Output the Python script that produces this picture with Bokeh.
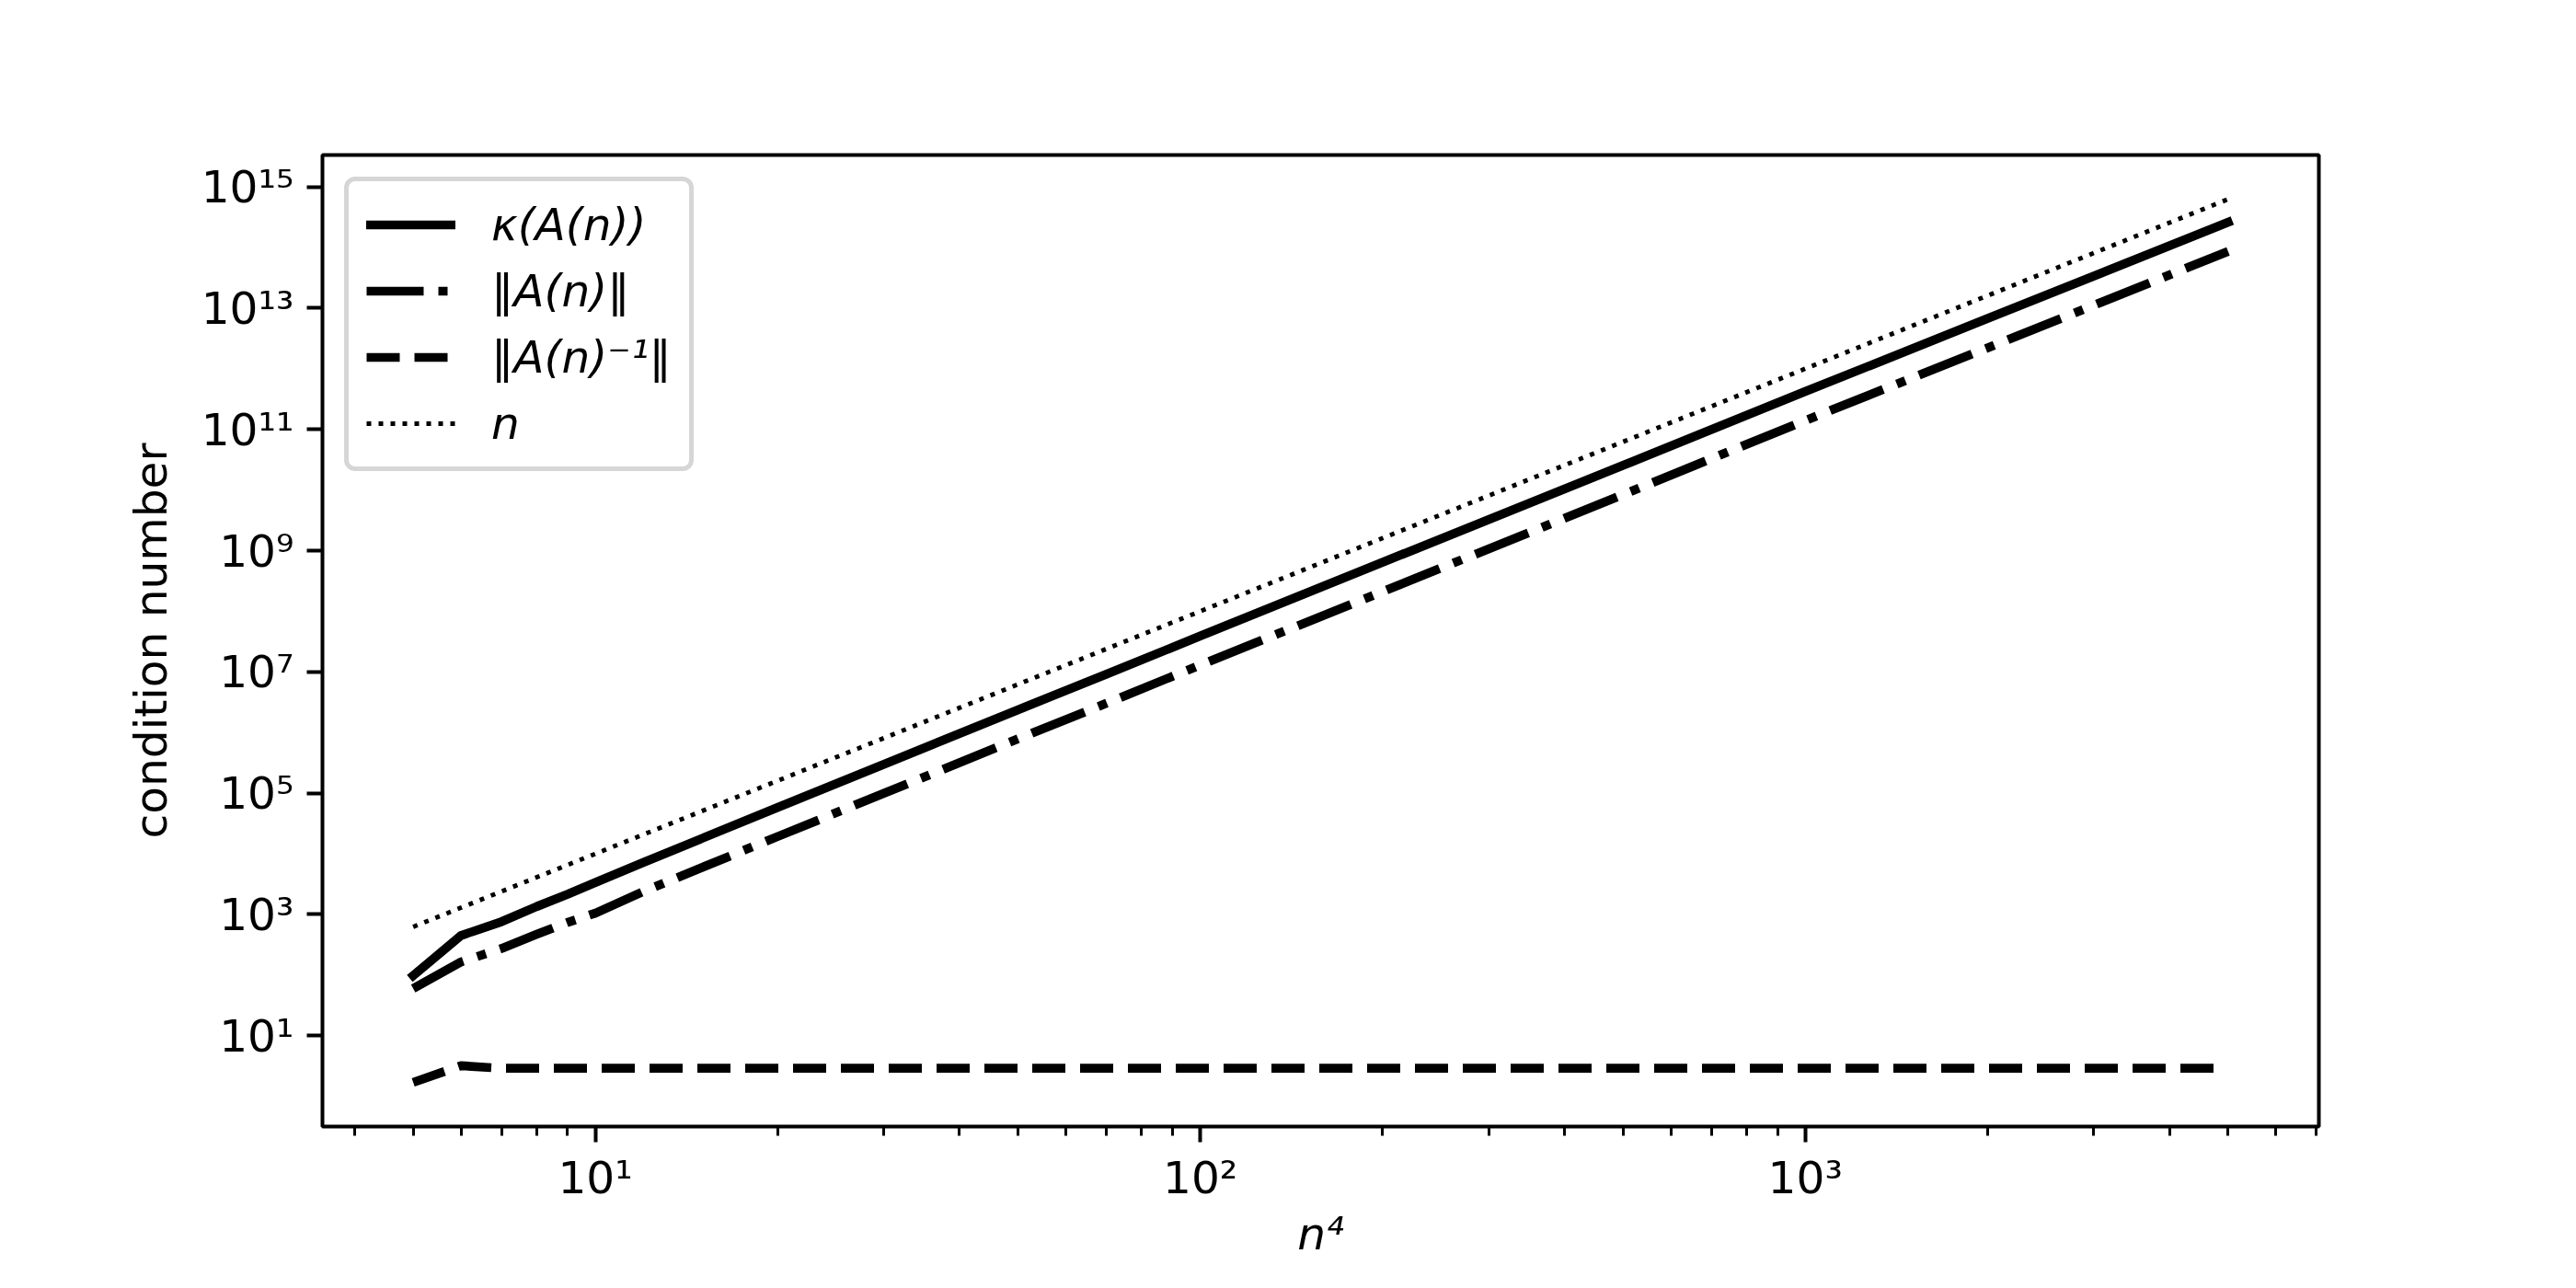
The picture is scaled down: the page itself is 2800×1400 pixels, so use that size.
import math
from bokeh.plotting import figure
from bokeh.models import (Range1d, FixedTicker, CustomJSTickFormatter, Legend, LegendItem)
from bokeh.embed import file_html
from bokeh.resources import INLINE

# ---- data ----
x_vals = [5, 6, 7, 8, 9, 10, 12, 15, 20, 30, 50, 70, 100, 200, 500, 1000, 2000, 5000]
kappa = [98, 450, 760, 1350, 2150, 3360, 7200, 17900, 5.8e4, 3.0e5, 2.38e6, 9.2e6,
         3.9e7, 6.4e8, 2.55e10, 4.2e11, 6.7e12, 2.6e14]
norm_A = [60, 165, 275, 470, 740, 1050, 2380, 5940, 1.92e4, 9.95e4, 7.9e5, 3.05e6,
          1.3e7, 2.1e8, 8.4e9, 1.4e11, 2.2e12, 8.6e13]
norm_A_inv = [1.7, 3.2, 2.9, 2.9, 2.9, 2.9, 2.9, 2.9, 2.9, 2.9, 2.9, 2.9,
              2.9, 2.9, 2.9, 2.9, 2.9, 2.9]
n_ref = [625, 1296, 2401, 4096, 6561, 1e4, 20736, 50625, 1.6e5, 8.1e5, 6.25e6, 2.401e7,
         1e8, 1.6e9, 6.25e10, 1e12, 1.6e13, 6.25e14]

legend_labels = ["\u03ba(A(n))", "\u2016A(n)\u2016", "\u2016A(n)\u207b\u00b9\u2016", "n"]
x_label = "n\u2074"
y_label = "condition number"
x_major_exp = [1, 2, 3]
y_major_exp = [1, 3, 5, 7, 9, 11, 13, 15]

FONT = "DejaVu Sans"
FS = "48.6px"

# ranges: 5% padding in log space (matplotlib default margins)
all_y = kappa + norm_A + norm_A_inv + n_ref
lx0, lx1 = math.log10(min(x_vals)), math.log10(max(x_vals))
ly0, ly1 = math.log10(min(all_y)), math.log10(max(all_y))
px, py = 0.05 * (lx1 - lx0), 0.05 * (ly1 - ly0)

W, H = 2784, 1390
p = figure(width=W, height=H, x_axis_type="log", y_axis_type="log",
           x_range=Range1d(10 ** (lx0 - px), 10 ** (lx1 + px)),
           y_range=Range1d(10 ** (ly0 - py), 10 ** (ly1 + py)),
           output_backend="svg", toolbar_location=None,
           min_border_left=350, min_border_right=W - 2520,
           min_border_top=168, min_border_bottom=H - 1224)
p.background_fill_color = "white"
p.border_fill_color = "white"
p.outline_line_color = "black"
p.outline_line_width = 4
p.xgrid.visible = False
p.ygrid.visible = False

r_k = p.line(x_vals, kappa, line_color="black", line_width=9.7,
             line_join="round", line_cap="square")
r_a = p.line(x_vals, norm_A, line_color="black", line_width=9.7,
             line_join="round", line_dash="62 16 10 16")
r_i = p.line(x_vals, norm_A_inv, line_color="black", line_width=9.7,
             line_join="round", line_dash="36 16")
r_n = p.line(x_vals, n_ref, line_color="black", line_width=4.9,
             line_join="round", line_dash="5 8")

sup_js = """
const sup = {"0":"\\u2070","1":"\\u00b9","2":"\\u00b2","3":"\\u00b3","4":"\\u2074",
             "5":"\\u2075","6":"\\u2076","7":"\\u2077","8":"\\u2078","9":"\\u2079","-":"\\u207b"};
const e = Math.round(Math.log10(tick));
return "10" + String(e).split("").map(c => sup[c]).join("");
"""

x_minor = [m * 10 ** k for k in range(0, 4) for m in range(2, 10)]

xa = p.xaxis[0]
xa.ticker = FixedTicker(ticks=[10 ** e for e in x_major_exp], minor_ticks=x_minor)
ya = p.yaxis[0]
ya.ticker = FixedTicker(ticks=[10 ** e for e in y_major_exp], minor_ticks=[])

for ax in (xa, ya):
    ax.formatter = CustomJSTickFormatter(code=sup_js)
    ax.axis_line_color = None
    ax.major_tick_line_color = "black"
    ax.major_tick_line_width = 4
    ax.minor_tick_line_color = "black"
    ax.minor_tick_line_width = 3
    ax.major_tick_in = 0
    ax.major_tick_out = 17
    ax.minor_tick_in = 0
    ax.minor_tick_out = 10
    ax.major_label_text_font = FONT
    ax.major_label_text_font_size = FS
    ax.major_label_text_color = "black"
    ax.axis_label_text_font = FONT
    ax.axis_label_text_font_size = FS
    ax.axis_label_text_color = "black"
    ax.major_label_standoff = 14

xa.major_label_standoff = 10
ya.minor_tick_out = 0
xa.axis_label = x_label
xa.axis_label_text_font_style = "italic"
xa.axis_label_standoff = 2
ya.axis_label = y_label
ya.axis_label_text_font_style = "normal"
ya.axis_label_standoff = 24

legend = Legend(items=[LegendItem(label=lab, renderers=[r])
                       for lab, r in zip(legend_labels, [r_k, r_a, r_i, r_n])],
                location="top_left")
legend.margin = 24
legend.padding = 19
legend.spacing = 16
legend.glyph_width = 97
legend.glyph_height = 50
legend.label_height = 50
legend.label_standoff = 39
legend.label_text_font = FONT
legend.label_text_font_size = FS
legend.label_text_font_style = "italic"
legend.label_text_color = "black"
legend.border_line_color = "#cccccc"
legend.border_line_alpha = 0.8
legend.border_line_width = 5
legend.background_fill_color = "white"
legend.background_fill_alpha = 0.8
legend.border_radius = 12
p.add_layout(legend)

open("out.html", "w", encoding="utf-8").write(file_html(p, INLINE))
